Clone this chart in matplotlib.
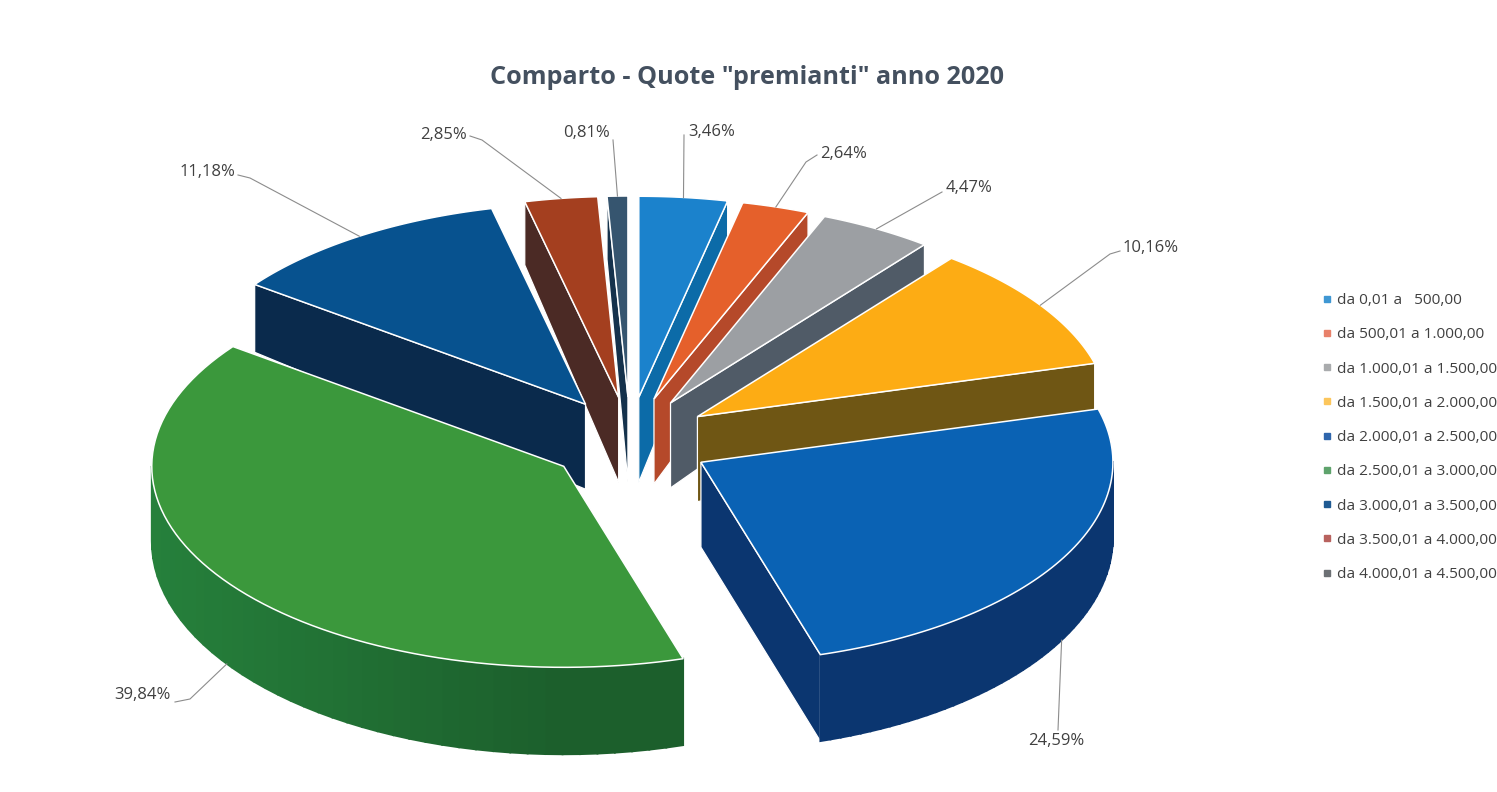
import numpy as np
import matplotlib
matplotlib.use('Agg')
import matplotlib.pyplot as plt
from matplotlib.colors import to_rgb
from matplotlib.lines import Line2D
from matplotlib.patches import Polygon

plt.rcParams['font.family'] = ['Open Sans', 'DejaVu Sans']

title = 'Comparto - Quote "premianti" anno 2020'
fasce = ['da 0,01 a   500,00', 'da 500,01 a 1.000,00', 'da 1.000,01 a 1.500,00',
         'da 1.500,01 a 2.000,00', 'da 2.000,01 a 2.500,00', 'da 2.500,01 a 3.000,00',
         'da 3.000,01 a 3.500,00', 'da 3.500,01 a 4.000,00', 'da 4.000,01 a 4.500,00']
quote = [3.46, 2.64, 4.47, 10.16, 24.59, 39.84, 11.18, 2.85, 0.81]

col_top = ['#1B82CC', '#E5602B', '#9C9FA3', '#FDAC14', '#0A62B4', '#3B983C', '#07528F', '#A43F1F', '#36556F']
col_side = ['#0C6BA8', '#B5492A', '#505B67', '#6F5614', '#0B3670', '#1C5F2C', '#0A2A4C', '#4B2A25', '#15324C']
col_leg = ['#3F97D3', '#E8816A', '#A9ABAD', '#FCC65C', '#2F66AC', '#5EA36C', '#1F5A92', '#B8625E', '#6C7074']

# geometria della torta (in pixel dell'immagine)
cx, cy = 630, 441
rx, ry = 412, 201
ex, ey = 81, 44   # esplosione delle fette
h_apex = 85


def punto(ax0, ay0, t):
    return ax0 + rx * np.sin(t), ay0 - ry * np.cos(t)


def spessore(t):
    # il bordo dietro e' piu' basso di quello davanti (prospettiva)
    return 75 - 12 * np.cos(t)


fig = plt.figure(figsize=(14.97, 7.92), dpi=100)
ax = fig.add_axes([0, 0, 1, 1])
ax.set_xlim(0, 1497)
ax.set_ylim(792, 0)
ax.axis('off')

bordi = np.cumsum([0] + quote) / sum(quote) * 2 * np.pi
medi = (bordi[:-1] + bordi[1:]) / 2

# si disegna da dietro verso davanti
ordine = sorted(range(len(quote)), key=lambda i: -np.cos(medi[i]))
for n, i in enumerate(ordine):
    t0, t1 = bordi[i], bordi[i + 1]
    ax0 = cx + ex * np.sin(medi[i])
    ay0 = cy - ey * np.cos(medi[i])
    z = 2 + n

    # facce radiali, solo quelle rivolte verso chi guarda
    for t, visibile in ((t0, np.sin(t0) < 0), (t1, np.sin(t1) > 0)):
        if visibile:
            p = punto(ax0, ay0, t)
            faccia = [(ax0, ay0), p, (p[0], p[1] + spessore(t)), (ax0, ay0 + h_apex)]
            ax.add_patch(Polygon(faccia, fc=col_side[i], ec='white', lw=0.9, zorder=z))

    # parete esterna, solo la parte davanti, a strisce per la sfumatura
    tt = np.linspace(t0, t1, 60)
    tt = tt[np.cos(tt) < 0.02]
    for a, b in zip(tt[:-1], tt[1:]):
        pa, pb = punto(ax0, ay0, a), punto(ax0, ay0, b)
        striscia = [pa, pb, (pb[0], pb[1] + spessore(b)), (pa[0], pa[1] + spessore(a))]
        luce = 1 + 0.35 * max(0, -np.sin(a))
        c = tuple(min(1, v * luce) for v in to_rgb(col_side[i]))
        ax.add_patch(Polygon(striscia, fc=c, ec=c, lw=1.3, zorder=z))

    arco = [punto(ax0, ay0, t) for t in np.linspace(t0, t1, 80)]
    ax.add_patch(Polygon([(ax0, ay0)] + arco, fc=col_top[i], ec='white', lw=1.1, zorder=z))

# etichette con linee guida
etichette = [f'{q:.2f}%'.replace('.', ',') for q in quote]
guide = [[(684, 135)], [(806, 162), (817, 155)], [(942, 192)], [(1110, 254), (1120, 251)],
         [(1058, 730)], [(190, 699), (175, 702)], [(250, 178), (238, 175)],
         [(482, 140), (470, 136)], [(613, 140)]]
pos_testo = [(688, 132), (820, 154), (946, 188), (1123, 248), (1028, 741), (171, 695),
             (235, 172), (467, 135), (610, 133)]
allin = ['left', 'left', 'left', 'left', 'left', 'right', 'right', 'right', 'right']
for i, testo in enumerate(etichette):
    t = medi[i]
    p = punto(cx + ex * np.sin(t), cy - ey * np.cos(t), t)
    if np.cos(t) < 0:
        p = (p[0], p[1] + spessore(t))
    xs = [p[0]] + [g[0] for g in guide[i]]
    ys = [p[1]] + [g[1] for g in guide[i]]
    ax.plot(xs, ys, color='#8C8C8C', lw=0.8, zorder=30)
    ax.text(pos_testo[i][0], pos_testo[i][1], testo, ha=allin[i], va='center',
            fontsize=12, color='#404040', zorder=31)

ax.text(747, 78, title, ha='center', va='center', fontsize=18.2, fontweight='bold', color='#44505F')

maniglie = [Line2D([], [], ls='none', marker='s', ms=4.5, mfc=c, mec=c) for c in col_leg]
ax.legend(maniglie, fasce, loc='upper left', bbox_to_anchor=(1322 / 1497, 1 - 293 / 792),
          frameon=False, fontsize=11.1, labelcolor='#404040', handlelength=0.6,
          handletextpad=0.35, labelspacing=1.25, borderpad=0, borderaxespad=0)

fig.savefig('out.png', dpi=100)
